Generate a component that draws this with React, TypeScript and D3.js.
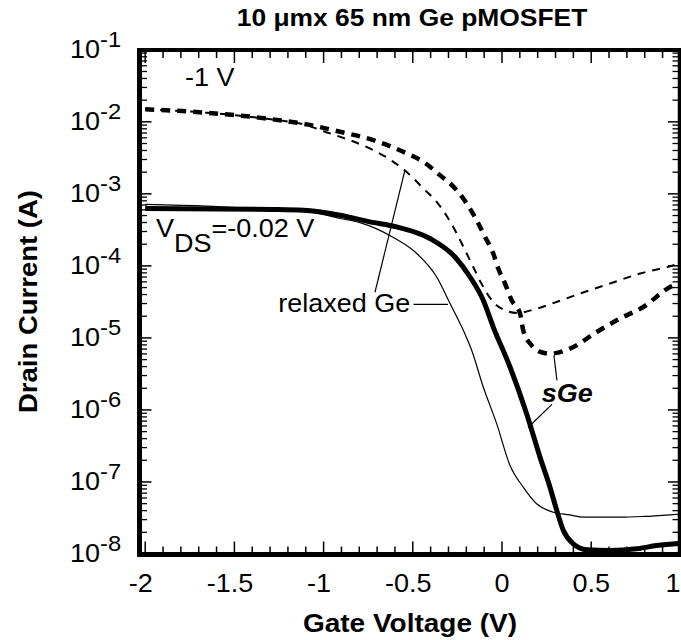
import React from 'react';
import * as d3 from 'd3';

const W = 681;
const H = 640;

// Each point: [gate voltage (V), log10 of drain current (A)]
const sGeVd1: [number, number][] = [
  [-2, -1.825], [-1.655, -1.874], [-1.282, -1.966], [-1.095, -2.035], [-0.908, -2.138],
  [-0.721, -2.254], [-0.534, -2.438], [-0.441, -2.555], [-0.348, -2.74], [-0.263, -2.925],
  [-0.198, -3.133], [-0.142, -3.366], [-0.095, -3.598], [-0.049, -3.828], [-0.021, -4.037],
  [0.017, -4.245], [0.054, -4.477], [0.101, -4.662], [0.119, -4.894], [0.166, -5.103],
  [0.21, -5.19], [0.269, -5.218], [0.381, -5.149], [0.531, -4.918], [0.661, -4.732],
  [0.792, -4.571], [0.942, -4.293], [1.0, -4.23],
];

const relaxedVd1: [number, number][] = [
  [-2, -1.825], [-1.655, -1.874], [-1.282, -1.97], [-1.095, -2.045], [-1.0, -2.13],
  [-0.815, -2.291], [-0.721, -2.393], [-0.609, -2.555], [-0.525, -2.716], [-0.441, -2.925],
  [-0.366, -3.111], [-0.301, -3.342], [-0.254, -3.55], [-0.207, -3.783], [-0.161, -4.015],
  [-0.105, -4.293], [-0.049, -4.501], [0.026, -4.626], [0.082, -4.654], [0.195, -4.593],
  [0.269, -4.533], [0.437, -4.384], [0.605, -4.245], [0.774, -4.106], [0.942, -4.005],
  [1.0, -3.96],
];

const sGeVd002: [number, number][] = [
  [-2, -3.203], [-1.282, -3.217], [-1.114, -3.227], [-0.908, -3.296], [-0.74, -3.389],
  [-0.59, -3.459], [-0.404, -3.62], [-0.262, -3.88], [-0.179, -4.154], [-0.105, -4.477],
  [-0.049, -4.849], [0.045, -5.404], [0.138, -6.052], [0.213, -6.655], [0.269, -7.072],
  [0.307, -7.396], [0.344, -7.674], [0.4, -7.859], [0.475, -7.942], [0.605, -7.952],
  [0.755, -7.928], [0.867, -7.883], [1.0, -7.85],
];

const relaxedVd002: [number, number][] = [
  [-2, -3.147], [-1.655, -3.171], [-1.282, -3.217], [-1.114, -3.233], [-0.908, -3.342],
  [-0.796, -3.4], [-0.609, -3.606], [-0.478, -3.828], [-0.366, -4.154], [-0.291, -4.523],
  [-0.217, -4.894], [-0.17, -5.172], [-0.105, -5.682], [-0.03, -6.19], [0.045, -6.771],
  [0.119, -7.072], [0.194, -7.303], [0.287, -7.42], [0.381, -7.456], [0.456, -7.489],
  [0.661, -7.489], [0.792, -7.479], [0.942, -7.456], [1.0, -7.445],
];

const xTickValues = [-2, -1.5, -1, -0.5, 0, 0.5, 1];
const xTickLabels = ['-2', '-1.5', '-1', '-0.5', '0', '0.5', '1'];
const yDecades = [-8, -7, -6, -5, -4, -3, -2, -1];
const yExpLabels = ['-8', '-7', '-6', '-5', '-4', '-3', '-2', '-1'];

const titleText = '10 \u03bcmx 65 nm Ge pMOSFET';
const xTitle = 'Gate Voltage (V)';
const yTitle = 'Drain Current (A)';

// annotation anchors in data space [V, log10 I]
const leaderLines: [number, number, number, number][] = [
  [-0.712, -4.366, -0.544, -2.671],
  [-0.496, -4.533, -0.303, -4.533],
  [0.308, -5.589, 0.291, -5.242],
  [0.28, -5.923, 0.146, -6.243],
];

const FONT = "'Liberation Sans', Arial, Helvetica, sans-serif";
const SX = 1.08;

function T(props: any) {
  const { x, y, size, weight, fstyle, anchor, rotate, sx, children } = props;
  const t = `translate(${x},${y})${rotate ? ` rotate(${rotate})` : ''} scale(${sx ?? SX},1)`;
  return (
    <text
      transform={t}
      fontSize={size}
      fontWeight={weight || 'normal'}
      fontStyle={fstyle || 'normal'}
      textAnchor={anchor || 'start'}
      fontFamily={FONT}
      fill="#000"
    >
      {children}
    </text>
  );
}

export default function App() {
  const x = d3.scaleLinear().domain([-2, 1]).range([145.2, 680.4]);
  const y = d3.scaleLog().domain([1e-8, 1e-1]).range([554, 49.8]);
  const ly = (l: number) => y(Math.pow(10, l));

  const line = d3
    .line<[number, number]>()
    .x((d) => x(d[0]))
    .y((d) => ly(d[1]))
    .curve(d3.curveMonotoneX);

  const frameL = 139.5;
  const frameR = 679.5;
  const frameT = 50;
  const frameB = 554.5;

  const xMinor = d3.range(-20, 11).map((i) => i / 10);
  const yMinor: number[] = [];
  for (let d = -8; d < -1; d++) {
    for (let k = 2; k <= 9; k++) yMinor.push(k * Math.pow(10, d));
  }

  const fs = 25;
  const minusW = 0.333 * fs * SX;
  const digitW = 0.556 * fs * SX;

  return (
    <svg
      width={W}
      height={H}
      style={{ position: 'absolute', left: 0, top: 0, background: '#fff' }}
    >
      <rect x={0} y={0} width={W} height={H} fill="#fff" />

      {/* title */}
      <T x={412} y={26} size={24} weight="bold" anchor="middle" sx={1.1}>
        {titleText}
      </T>

      {/* curves */}
      <path d={line(relaxedVd002) || ''} fill="none" stroke="#000" strokeWidth={1.2} />
      <path d={line(sGeVd002) || ''} fill="none" stroke="#000" strokeWidth={5} strokeLinejoin="round" />
      <path d={line(relaxedVd1) || ''} fill="none" stroke="#000" strokeWidth={2} strokeDasharray="8,7" />
      <path d={line(sGeVd1) || ''} fill="none" stroke="#000" strokeWidth={4.5} strokeDasharray="9,7" />

      {/* ticks bottom/top */}
      {xMinor.map((v, i) => {
        const major = Math.abs(v * 2 - Math.round(v * 2)) < 1e-6;
        const len = major ? 11 : 6;
        return (
          <g key={'xt' + i}>
            <line x1={x(v)} x2={x(v)} y1={frameB - 2} y2={frameB - 2 - len} stroke="#000" strokeWidth={1.5} />
            <line x1={x(v)} x2={x(v)} y1={frameT + 2} y2={frameT + 2 + len} stroke="#000" strokeWidth={1.5} />
          </g>
        );
      })}
      {/* ticks left/right */}
      {yDecades.map((d, i) => (
        <g key={'yM' + i}>
          <line x1={frameL + 2} x2={frameL + 12} y1={y(Math.pow(10, d))} y2={y(Math.pow(10, d))} stroke="#000" strokeWidth={1.5} />
          <line x1={frameR - 1.5} x2={frameR - 11.5} y1={y(Math.pow(10, d))} y2={y(Math.pow(10, d))} stroke="#000" strokeWidth={1.5} />
        </g>
      ))}
      {yMinor.map((v, i) => (
        <g key={'ym' + i}>
          <line x1={frameL + 2} x2={frameL + 7.5} y1={y(v)} y2={y(v)} stroke="#000" strokeWidth={1.3} />
          <line x1={frameR - 1.5} x2={frameR - 7} y1={y(v)} y2={y(v)} stroke="#000" strokeWidth={1.3} />
        </g>
      ))}

      {/* frame */}
      <line x1={frameL} x2={frameL} y1={frameT - 2} y2={frameB + 2.5} stroke="#000" strokeWidth={5} />
      <line x1={frameL - 2.5} x2={W} y1={frameB} y2={frameB} stroke="#000" strokeWidth={5} />
      <line x1={frameL - 2.5} x2={W} y1={frameT} y2={frameT} stroke="#000" strokeWidth={4} />
      <line x1={frameR} x2={frameR} y1={frameT} y2={frameB} stroke="#000" strokeWidth={3.5} />

      {/* x tick labels */}
      {xTickValues.map((v, i) => {
        const neg = xTickLabels[i].startsWith('-');
        const cx = x(v) - (neg ? minusW / 2 : 0);
        const overflow = cx + digitW / 2 > W - 0.5;
        return (
          <T
            key={'xl' + i}
            x={overflow ? W - 0.5 : cx}
            y={592}
            size={fs}
            anchor={overflow ? 'end' : 'middle'}
          >
            {xTickLabels[i]}
          </T>
        );
      })}

      {/* y tick labels */}
      {yDecades.map((d, i) => (
        <T key={'yl' + i} x={70} y={y(Math.pow(10, d)) + 8} size={fs}>
          <tspan>10</tspan>
          <tspan dy={-11} fontSize={22}>
            {yExpLabels[i]}
          </tspan>
        </T>
      ))}

      {/* axis titles */}
      <T x={410} y={632} size={25} weight="bold" anchor="middle" sx={1.12}>
        {xTitle}
      </T>
      <T x={37} y={301.5} size={25} weight="bold" anchor="middle" rotate={-90} sx={1.1}>
        {yTitle}
      </T>

      {/* annotations */}
      <T x={x(-1.777)} y={ly(-1.5)} size={fs}>
        -1 V
      </T>
      <T x={x(-1.939)} y={ly(-3.598)} size={fs}>
        <tspan>V</tspan>
        <tspan dy={15}>DS</tspan>
        <tspan dy={-15}>=-0.02 V</tspan>
      </T>
      <T x={x(-1.254)} y={ly(-4.64)} size={fs}>
        relaxed Ge
      </T>
      <T x={x(0.2225)} y={ly(-5.895)} size={fs} weight="bold" fstyle="italic">
        sGe
      </T>
      {leaderLines.map((l, i) => (
        <line
          key={'ll' + i}
          x1={x(l[0])}
          y1={ly(l[1])}
          x2={x(l[2])}
          y2={ly(l[3])}
          stroke="#000"
          strokeWidth={1.2}
        />
      ))}
    </svg>
  );
}
